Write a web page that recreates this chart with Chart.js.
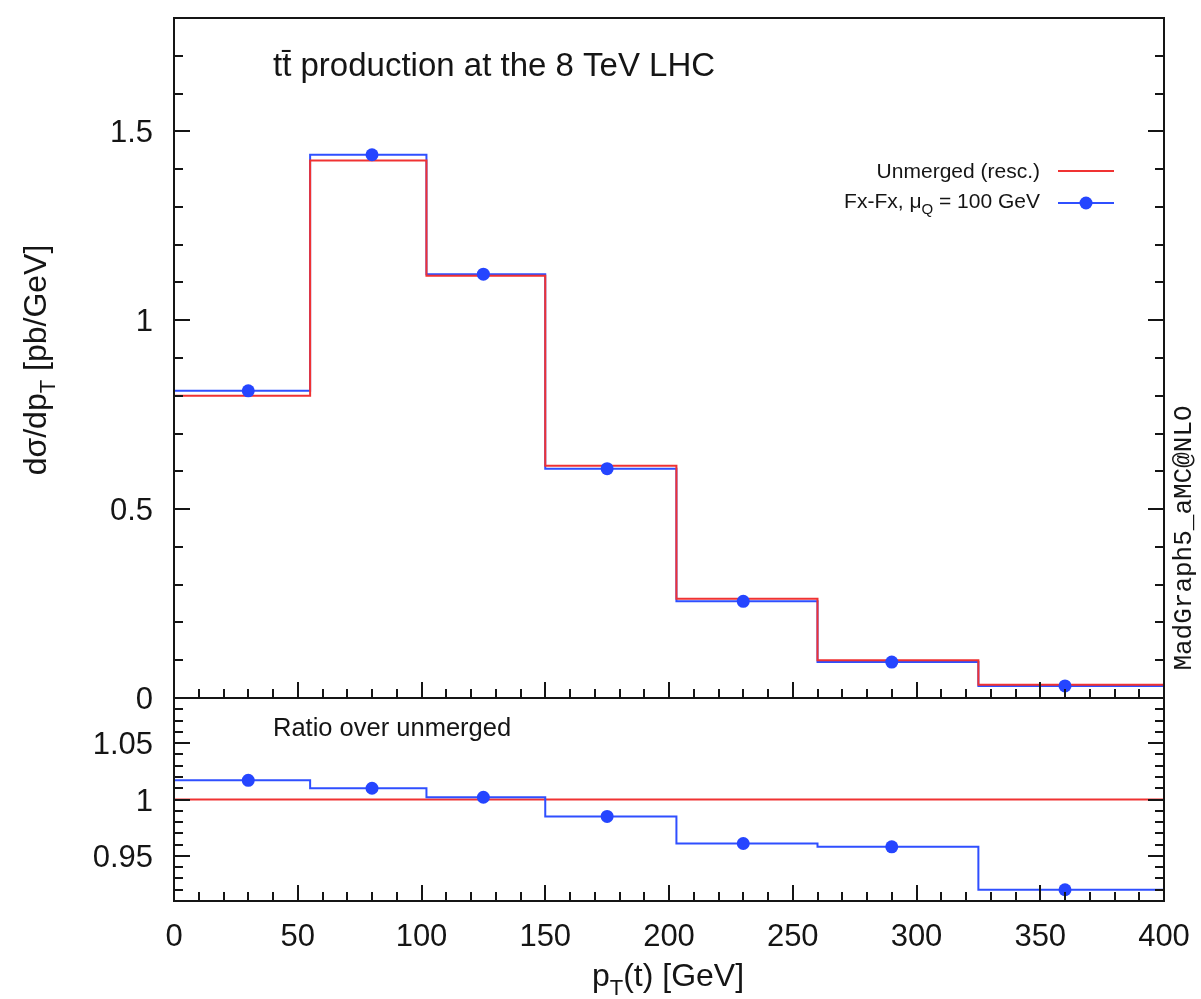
<!DOCTYPE html>
<html>
<head>
<meta charset="utf-8">
<title>top pT spectrum</title>
<script src="https://cdn.jsdelivr.net/npm/chart.js@4.4.1/dist/chart.umd.min.js"></script>
<style>
  body { margin: 0; background: #fff; }
  #wrap { position: relative; width: 1201px; height: 999px; }
  #wrap canvas { position: absolute; left: 0; top: 0; }
</style>
</head>
<body>
<div id="wrap">
  <canvas id="mainChart" width="1201" height="999"></canvas>
  <canvas id="ratioChart" width="1201" height="999"></canvas>
</div>
<script>
// histogram bins in pT(t) [GeV]
const binEdges = [0, 55, 102, 150, 203, 260, 325, 400];
const pointX = [30, 80, 125, 175, 230, 290, 360];

// dsigma/dpT [pb/GeV]
const unmerged = [0.800, 1.423, 1.118, 0.615, 0.263, 0.0996, 0.035];
const fxfx = [0.813, 1.438, 1.122, 0.607, 0.256, 0.095, 0.032];

// ratio over unmerged
const ratioRef = [1, 1, 1, 1, 1, 1, 1];
const ratioFxfx = [1.017, 1.010, 1.002, 0.985, 0.961, 0.958, 0.920];

// tick labels
const xTickVals = [0, 50, 100, 150, 200, 250, 300, 350, 400];
const yMainTickVals = [0, 0.5, 1, 1.5];
const yMainTickLabels = ['0', '0.5', '1', '1.5'];
const yRatioTickVals = [0.95, 1, 1.05];
const yRatioTickLabels = ['0.95', '1', '1.05'];

const RED = '#f03232';
const BLUE = '#2f4fff';
const DOT = '#2545ff';
const INK = '#151515';
const SANS = '"Liberation Sans", Arial, Helvetica, sans-serif';

// panel geometry
const LEFT = 174, RIGHT = 1164, TOP = 18, SPLIT = 698, BOTTOM = 901;
const W = 1201, H = 999;

function stepData(vals) {
  const pts = vals.map((v, i) => ({ x: binEdges[i], y: v }));
  pts.push({ x: binEdges[binEdges.length - 1], y: vals[vals.length - 1] });
  return pts;
}

function drawRich(ctx, parts, x, y, size, align) {
  const fontOf = sub => (sub ? Math.round(size * 0.7) : size) + 'px ' + SANS;
  let w = 0;
  parts.forEach(([t, sub]) => { ctx.font = fontOf(sub); w += ctx.measureText(t).width; });
  let cx = align === 'center' ? x - w / 2 : align === 'right' ? x - w : x;
  ctx.textAlign = 'left';
  ctx.textBaseline = 'alphabetic';
  parts.forEach(([t, sub]) => {
    ctx.font = fontOf(sub);
    ctx.fillText(t, cx, sub ? y + size * 0.28 : y);
    cx += ctx.measureText(t).width;
  });
}

function isMajor(v, major) {
  const r = v / major;
  return Math.abs(r - Math.round(r)) < 1e-6;
}

// inward ticks on left and right edges
function yTicks(ctx, area, scale, from, to, step, major) {
  const n = Math.round((to - from) / step);
  ctx.beginPath();
  for (let i = 0; i <= n; i++) {
    const v = from + i * step;
    const py = Math.round(scale.getPixelForValue(v));
    const len = isMajor(v, major) ? 16 : 9;
    ctx.moveTo(area.left, py); ctx.lineTo(area.left + len, py);
    ctx.moveTo(area.right, py); ctx.lineTo(area.right - len, py);
  }
  ctx.stroke();
}

// inward ticks along the bottom edge
function xTicks(ctx, area, scale) {
  ctx.beginPath();
  for (let v = 0; v <= 400; v += 10) {
    const px = Math.round(scale.getPixelForValue(v));
    const len = v % 50 === 0 ? 16 : 9;
    ctx.moveTo(px, area.bottom); ctx.lineTo(px, area.bottom - len);
  }
  ctx.stroke();
}

function frame(ctx, area) {
  ctx.strokeStyle = INK;
  ctx.lineWidth = 2;
  ctx.strokeRect(area.left, area.top, area.right - area.left, area.bottom - area.top);
}

const mainDecor = {
  id: 'mainDecor',
  afterDraw(chart) {
    const { ctx, chartArea: a, scales } = chart;
    ctx.save();
    frame(ctx, a);
    yTicks(ctx, a, scales.y, 0, 1.8, 0.1, 0.5);
    xTicks(ctx, a, scales.x);

    ctx.fillStyle = INK;
    ctx.font = '31px ' + SANS;
    ctx.textAlign = 'right';
    ctx.textBaseline = 'alphabetic';
    yMainTickVals.forEach((v, i) => {
      ctx.fillText(yMainTickLabels[i], 153, scales.y.getPixelForValue(v) + 11);
    });

    // process label
    ctx.font = '33px ' + SANS;
    ctx.textAlign = 'left';
    ctx.fillText('tt\u0304 production at the 8 TeV LHC', 273, 76);

    // y axis title
    ctx.save();
    ctx.translate(46, 360);
    ctx.rotate(-Math.PI / 2);
    drawRich(ctx, [['d\u03c3/dp', false], ['T', true], [' [pb/GeV]', false]], 0, 0, 32, 'center');
    ctx.restore();

    // legend
    drawRich(ctx, [['Unmerged (resc.)', false]], 1040, 178, 21, 'right');
    drawRich(ctx, [['Fx-Fx, \u03bc', false], ['Q', true], [' = 100 GeV', false]], 1040, 208, 21, 'right');
    ctx.lineWidth = 2;
    ctx.strokeStyle = RED;
    ctx.beginPath(); ctx.moveTo(1058, 171); ctx.lineTo(1114, 171); ctx.stroke();
    ctx.strokeStyle = BLUE;
    ctx.beginPath(); ctx.moveTo(1058, 203); ctx.lineTo(1114, 203); ctx.stroke();
    ctx.fillStyle = DOT;
    ctx.beginPath(); ctx.arc(1086, 203, 6.5, 0, Math.PI * 2); ctx.fill();

    // generator tag
    ctx.save();
    ctx.translate(1191, 538);
    ctx.rotate(-Math.PI / 2);
    ctx.fillStyle = INK;
    ctx.font = '26px "Liberation Mono", "Courier New", monospace';
    ctx.textAlign = 'center';
    ctx.textBaseline = 'alphabetic';
    ctx.fillText('MadGraph5_aMC@NLO', 0, 0);
    ctx.restore();
    ctx.restore();
  }
};

const ratioDecor = {
  id: 'ratioDecor',
  afterDraw(chart) {
    const { ctx, chartArea: a, scales } = chart;
    ctx.save();
    frame(ctx, a);
    yTicks(ctx, a, scales.y, 0.91, 1.09, 0.01, 0.05);
    xTicks(ctx, a, scales.x);

    ctx.fillStyle = INK;
    ctx.font = '31px ' + SANS;
    ctx.textAlign = 'right';
    ctx.textBaseline = 'alphabetic';
    yRatioTickVals.forEach((v, i) => {
      ctx.fillText(yRatioTickLabels[i], 153, scales.y.getPixelForValue(v) + 11);
    });
    ctx.textAlign = 'center';
    xTickVals.forEach(v => {
      ctx.fillText(String(v), scales.x.getPixelForValue(v), 946);
    });

    drawRich(ctx, [['Ratio over unmerged', false]], 273, 736, 25.5, 'left');
    drawRich(ctx, [['p', false], ['T', true], ['(t) [GeV]', false]], 668, 986, 32, 'center');
    ctx.restore();
  }
};

const common = {
  responsive: false,
  maintainAspectRatio: false,
  animation: false,
  devicePixelRatio: 1,
  plugins: { legend: { display: false }, tooltip: { enabled: false } },
  elements: { line: { tension: 0 } }
};

new Chart(document.getElementById('mainChart'), {
  type: 'scatter',
  data: {
    datasets: [
      { data: pointX.map((x, i) => ({ x, y: fxfx[i] })), pointRadius: 6.5, pointBackgroundColor: DOT, pointBorderWidth: 0, showLine: false, order: 0 },
      { data: stepData(unmerged), showLine: true, stepped: true, borderColor: RED, borderWidth: 2, pointRadius: 0, order: 1 },
      { data: stepData(fxfx), showLine: true, stepped: true, borderColor: BLUE, borderWidth: 2, pointRadius: 0, order: 2 }
    ]
  },
  options: {
    ...common,
    layout: { padding: { left: LEFT, right: W - RIGHT, top: TOP, bottom: H - SPLIT } },
    scales: {
      x: { type: 'linear', min: 0, max: 400, display: false },
      y: { min: 0, max: 1.8, display: false }
    }
  },
  plugins: [mainDecor]
});

new Chart(document.getElementById('ratioChart'), {
  type: 'scatter',
  data: {
    datasets: [
      { data: pointX.map((x, i) => ({ x, y: ratioFxfx[i] })), pointRadius: 6.5, pointBackgroundColor: DOT, pointBorderWidth: 0, showLine: false, order: 0 },
      { data: stepData(ratioFxfx), showLine: true, stepped: true, borderColor: BLUE, borderWidth: 2, pointRadius: 0, order: 1 },
      { data: stepData(ratioRef), showLine: true, stepped: true, borderColor: RED, borderWidth: 2, pointRadius: 0, order: 2 }
    ]
  },
  options: {
    ...common,
    layout: { padding: { left: LEFT, right: W - RIGHT, top: SPLIT, bottom: H - BOTTOM } },
    scales: {
      x: { type: 'linear', min: 0, max: 400, display: false },
      y: { min: 0.91, max: 1.09, display: false }
    }
  },
  plugins: [ratioDecor]
});
</script>
</body>
</html>
